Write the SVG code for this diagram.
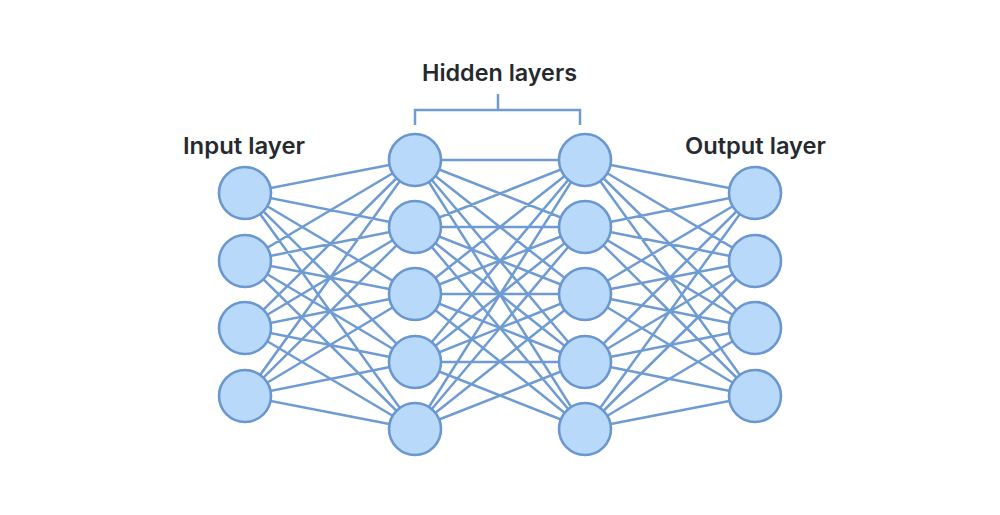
<svg xmlns="http://www.w3.org/2000/svg" width="1000" height="515" viewBox="0 0 1000 515">
<style>
.n{fill:#b9d9fb;stroke:#6a97cf;stroke-width:2.6}
.c line,.c path{stroke:#6f9bd3;stroke-width:2.5;fill:none}
.t{font-family:Inter,"Open Sans",sans-serif;font-weight:600;font-size:22.5px;fill:#262a2e}
</style>
<rect width="1000" height="515" fill="#fff"/>
<g class="c" id="connectors">
<path d="M245,193L415,160M245,193L415,227M245,193L415,294M245,193L415,362M245,193L415,429
M245,261L415,160M245,261L415,227M245,261L415,294M245,261L415,362M245,261L415,429
M245,328L415,160M245,328L415,227M245,328L415,294M245,328L415,362M245,328L415,429
M245,396L415,160M245,396L415,227M245,396L415,294M245,396L415,362M245,396L415,429
M415,160L585,160M415,160L585,227M415,160L585,294M415,160L585,362M415,160L585,429
M415,227L585,160M415,227L585,227M415,227L585,294M415,227L585,362M415,227L585,429
M415,294L585,160M415,294L585,227M415,294L585,294M415,294L585,362M415,294L585,429
M415,362L585,160M415,362L585,227M415,362L585,294M415,362L585,362M415,362L585,429
M415,429L585,160M415,429L585,227M415,429L585,294M415,429L585,362
M585,160L755,193M585,160L755,261M585,160L755,328M585,160L755,396
M585,227L755,193M585,227L755,261M585,227L755,328M585,227L755,396
M585,294L755,193M585,294L755,261M585,294L755,328M585,294L755,396
M585,362L755,193M585,362L755,261M585,362L755,328M585,362L755,396
M585,429L755,193M585,429L755,261M585,429L755,328M585,429L755,396"/>
<path id="bracket" d="M415,125V110H580V125M498,110V94"/>
</g>
<g id="input">
<circle class="n" cx="245" cy="193" r="26"/>
<circle class="n" cx="245" cy="261" r="26"/>
<circle class="n" cx="245" cy="328" r="26"/>
<circle class="n" cx="245" cy="396" r="26"/>
</g>
<g id="hidden1">
<circle class="n" cx="415" cy="160" r="26"/>
<circle class="n" cx="415" cy="227" r="26"/>
<circle class="n" cx="415" cy="294" r="26"/>
<circle class="n" cx="415" cy="362" r="26"/>
<circle class="n" cx="415" cy="429" r="26"/>
</g>
<g id="hidden2">
<circle class="n" cx="585" cy="160" r="26"/>
<circle class="n" cx="585" cy="227" r="26"/>
<circle class="n" cx="585" cy="294" r="26"/>
<circle class="n" cx="585" cy="362" r="26"/>
<circle class="n" cx="585" cy="429" r="26"/>
</g>
<g id="output">
<circle class="n" cx="755" cy="193" r="26"/>
<circle class="n" cx="755" cy="261" r="26"/>
<circle class="n" cx="755" cy="328" r="26"/>
<circle class="n" cx="755" cy="396" r="26"/>
</g>
<g id="labels">
<text class="t" x="183" y="154" textLength="122" lengthAdjust="spacingAndGlyphs">Input layer</text>
<text class="t" x="422" y="81" textLength="155" lengthAdjust="spacingAndGlyphs">Hidden layers</text>
<text class="t" x="685" y="154" textLength="141" lengthAdjust="spacingAndGlyphs">Output layer</text>
</g>
</svg>
